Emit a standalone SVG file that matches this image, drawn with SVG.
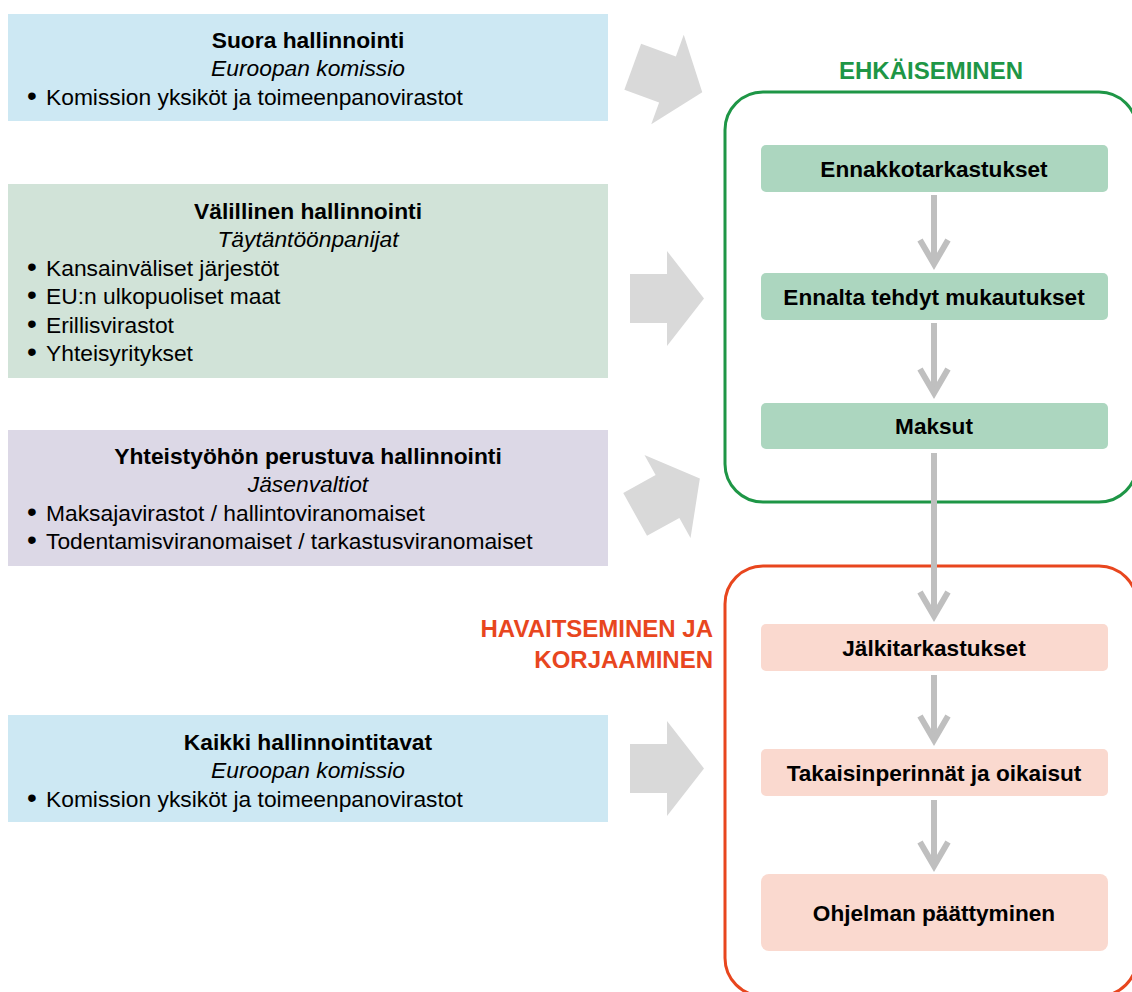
<svg xmlns="http://www.w3.org/2000/svg" width="1132" height="992" viewBox="0 0 1132 992">
  <style>
    .t { font-family: "Liberation Sans", Arial, sans-serif; font-size: 22.8px; fill: #000; }
    .s { font-size: 22.6px; }
    .b { font-weight: bold; }
    .i { font-style: italic; }
    .c { text-anchor: middle; }
    .dot { font-size: 28px; }
    .blue { fill: #cde8f3; }
    .sage { fill: #d1e3d8; }
    .lilac { fill: #dcd8e6; }
    .gstep { fill: #acd6bf; }
    .rstep { fill: #fad9cf; }
    .big { fill: #d9d9d9; }
    .flow { fill: none; stroke: #bfbfbf; stroke-width: 6; }
    .head { fill: none; stroke: #bfbfbf; stroke-width: 6; stroke-linejoin: miter; }
    .phase { font-family: "Liberation Sans", Arial, sans-serif; font-weight: bold; font-size: 24px; }
  </style>
  <defs>
    <!-- block arrow, origin at the middle of the head base -->
    <polygon id="blockArrow" points="-37,-24.5 0,-24.5 0,-47.5 37,0 0,47.5 0,24.5 -37,24.5"/>
  </defs>

  <rect width="1132" height="992" fill="#fff"/>

  <!-- management modes -->
  <g id="suora">
    <rect class="blue" x="8" y="14" width="600" height="107"/>
    <text class="t b c" x="308" y="48">Suora hallinnointi</text>
    <text class="t i c" x="308" y="76">Euroopan komissio</text>
    <text class="t" y="105"><tspan class="dot" x="27">•</tspan><tspan x="46">Komission yksiköt ja toimeenpanovirastot</tspan></text>
  </g>

  <g id="valillinen">
    <rect class="sage" x="8" y="184" width="600" height="194"/>
    <text class="t b c" x="308" y="219">Välillinen hallinnointi</text>
    <text class="t i c" x="308" y="247">Täytäntöönpanijat</text>
    <text class="t" y="276"><tspan class="dot" x="27">•</tspan><tspan x="46">Kansainväliset järjestöt</tspan></text>
    <text class="t" y="304"><tspan class="dot" x="27">•</tspan><tspan x="46">EU:n ulkopuoliset maat</tspan></text>
    <text class="t" y="333"><tspan class="dot" x="27">•</tspan><tspan x="46">Erillisvirastot</tspan></text>
    <text class="t" y="361"><tspan class="dot" x="27">•</tspan><tspan x="46">Yhteisyritykset</tspan></text>
  </g>

  <g id="yhteistyo">
    <rect class="lilac" x="8" y="430" width="600" height="136"/>
    <text class="t b c" x="308" y="464">Yhteistyöhön perustuva hallinnointi</text>
    <text class="t i c" x="308" y="492">Jäsenvaltiot</text>
    <text class="t" y="521"><tspan class="dot" x="27">•</tspan><tspan x="46">Maksajavirastot / hallintoviranomaiset</tspan></text>
    <text class="t" y="549"><tspan class="dot" x="27">•</tspan><tspan x="46">Todentamisviranomaiset / tarkastusviranomaiset</tspan></text>
  </g>

  <g id="kaikki">
    <rect class="blue" x="8" y="715" width="600" height="107"/>
    <text class="t b c" x="308" y="750">Kaikki hallinnointitavat</text>
    <text class="t i c" x="308" y="778">Euroopan komissio</text>
    <text class="t" y="807"><tspan class="dot" x="27">•</tspan><tspan x="46">Komission yksiköt ja toimeenpanovirastot</tspan></text>
  </g>

  <!-- prevention phase -->
  <g id="ehkaiseminen">
    <text class="phase c" x="931" y="79" fill="#1e9646">EHKÄISEMINEN</text>
    <rect x="725" y="92" width="412" height="410" rx="38" fill="none" stroke="#1e9646" stroke-width="3"/>
  </g>

  <!-- detection and correction phase -->
  <g id="havaitseminen">
    <text class="phase" x="713" y="637" text-anchor="end" fill="#e8461e">HAVAITSEMINEN JA</text>
    <text class="phase" x="713" y="668" text-anchor="end" fill="#e8461e">KORJAAMINEN</text>
    <rect x="725" y="566" width="412" height="430" rx="38" fill="none" stroke="#e8461e" stroke-width="3"/>
  </g>

  <g id="ennakko">
    <rect class="gstep" x="761" y="145" width="347" height="47" rx="5"/>
    <text class="t s b c" x="934" y="177">Ennakkotarkastukset</text>
  </g>
  <g id="ennalta">
    <rect class="gstep" x="761" y="273" width="347" height="47" rx="5"/>
    <text class="t s b c" x="934" y="305">Ennalta tehdyt mukautukset</text>
  </g>
  <g id="maksut">
    <rect class="gstep" x="761" y="403" width="347" height="46" rx="5"/>
    <text class="t s b c" x="934" y="434">Maksut</text>
  </g>
  <g id="jalki">
    <rect class="rstep" x="761" y="624" width="347" height="47" rx="5"/>
    <text class="t s b c" x="934" y="656">Jälkitarkastukset</text>
  </g>
  <g id="takaisin">
    <rect class="rstep" x="761" y="749" width="347" height="47" rx="5"/>
    <text class="t s b c" x="934" y="781">Takaisinperinnät ja oikaisut</text>
  </g>
  <g id="ohjelma">
    <rect class="rstep" x="761" y="874" width="347" height="77" rx="8"/>
    <text class="t s b c" x="934" y="921">Ohjelman päättyminen</text>
  </g>

  <!-- connectors -->
  <g id="connectors">
    <use href="#blockArrow" class="big" transform="translate(667.5,79.5) rotate(20)"/>
    <use href="#blockArrow" class="big" transform="translate(667,298.5)"/>
    <use href="#blockArrow" class="big" transform="translate(667.5,496.5) rotate(-29)"/>
    <use href="#blockArrow" class="big" transform="translate(667,768.5)"/>

    <line class="flow" x1="934" y1="195" x2="934" y2="264"/>
    <polyline class="head" points="920,240 934,264 948,240"/>
    <line class="flow" x1="934" y1="323" x2="934" y2="393"/>
    <polyline class="head" points="920,369 934,393 948,369"/>
    <line class="flow" x1="934" y1="453" x2="934" y2="616"/>
    <polyline class="head" points="920,592 934,616 948,592"/>
    <line class="flow" x1="934" y1="675" x2="934" y2="740"/>
    <polyline class="head" points="920,716 934,740 948,716"/>
    <line class="flow" x1="934" y1="800" x2="934" y2="866"/>
    <polyline class="head" points="920,842 934,866 948,842"/>
  </g>
</svg>
